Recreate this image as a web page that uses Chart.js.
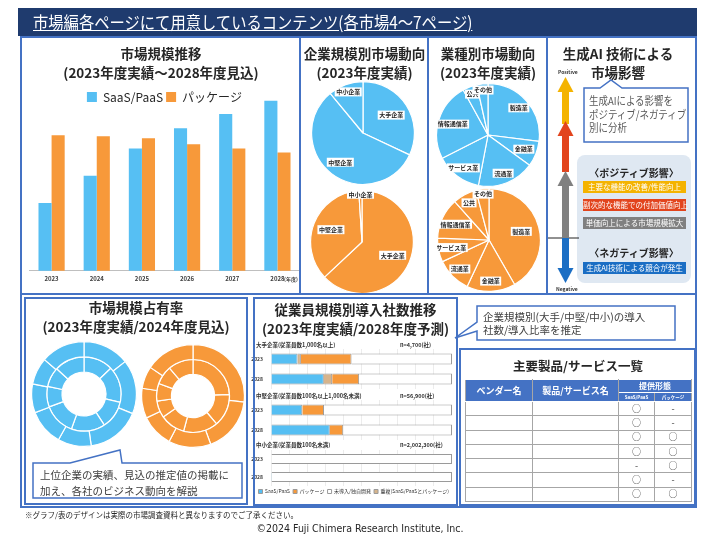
<!DOCTYPE html>
<html><head><meta charset="utf-8">
<script src="https://cdn.jsdelivr.net/npm/chart.js@4.4.0/dist/chart.umd.min.js"></script>
<style>
body{margin:0;background:#fff;}
#page{position:relative;width:720px;height:540px;overflow:hidden;font-family:"Noto Sans CJK JP","Noto Sans",sans-serif;color:#262626;}
.box{position:absolute;border:2px solid #4472c4;box-sizing:border-box;z-index:5;}
.t{position:absolute;white-space:nowrap;z-index:6;}
.title{position:absolute;font-weight:700;font-size:13.5px;text-align:center;line-height:19px;color:#262626;z-index:6;white-space:nowrap;}
canvas{position:absolute;}
svg{position:absolute;left:0;top:0;}
.tag{position:absolute;left:583px;width:103px;height:12px;line-height:12px;font-size:7.5px;color:#fff;text-align:center;white-space:nowrap;z-index:6;}
table{position:absolute;border-collapse:collapse;table-layout:fixed;z-index:6;}
td,th{border:1px solid #a6a6a6;padding:0;text-align:center;font-size:9px;color:#404040;}
th{background:#4472c4;color:#fff;font-weight:700;border-color:#fff #a6a6a6;}
</style></head>
<body><div id="page">
<div style="position:absolute;left:18px;top:8px;width:679px;height:28px;background:#1f3b6e;"></div>
<div class="t" style="left:33px;top:10px;font-size:17px;line-height:24px;color:#fff;text-decoration:underline;transform:scaleX(0.9);transform-origin:0 0;">市場編各ページにて用意しているコンテンツ(各市場4～7ページ)</div>

<div class="box" style="left:20px;top:36px;width:281px;height:259px;"></div>
<div class="box" style="left:299px;top:36px;width:130px;height:259px;"></div>
<div class="box" style="left:427px;top:36px;width:121px;height:259px;"></div>
<div class="box" style="left:546px;top:36px;width:151px;height:259px;"></div>
<div class="box" style="left:20px;top:293px;width:677px;height:215px;"></div>
<div class="box" style="left:24px;top:297px;width:224px;height:208px;"></div>
<div class="box" style="left:253px;top:297px;width:205px;height:209px;"></div>
<div class="box" style="left:459px;top:348px;width:237px;height:158px;"></div>

<div class="title" style="left:22px;top:44px;width:278px;">市場規模推移<br>(2023年度実績～2028年度見込)</div>
<div class="title" style="left:301px;top:44px;width:127px;">企業規模別市場動向<br>(2023年度実績)</div>
<div class="title" style="left:429px;top:44px;width:118px;">業種別市場動向<br>(2023年度実績)</div>
<div class="title" style="left:548px;top:44px;width:140px;">生成AI 技術による<br>市場影響</div>
<div class="title" style="left:24px;top:298px;width:224px;">市場規模占有率<br>(2023年度実績/2024年度見込)</div>
<div class="title" style="left:253px;top:300px;width:205px;">従業員規模別導入社数推移<br>(2023年度実績/2028年度予測)</div>
<div class="title" style="left:460px;top:356px;width:236px;font-size:12.5px;">主要製品/サービス一覧</div>

<canvas id="barChart" width="271" height="199" style="left:29px;top:88px;"></canvas>
<div class="t" style="left:284px;top:275px;font-size:5px;font-weight:700;color:#404040;">(年度)</div>

<canvas id="sizeSaasPie" width="104" height="104" style="left:311px;top:81px;"></canvas>
<canvas id="sizePkgPie" width="104" height="104" style="left:310px;top:190px;"></canvas>
<canvas id="indSaasPie" width="104" height="104" style="left:436px;top:83px;"></canvas>
<canvas id="indPkgPie" width="104" height="104" style="left:437px;top:188px;"></canvas>

<canvas id="shareSaas" width="106" height="106" style="left:31px;top:341px;"></canvas>
<canvas id="sharePkg" width="104" height="104" style="left:141px;top:344px;"></canvas>

<svg width="720" height="540" style="z-index:4;">
  <rect x="577" y="155" width="114" height="128" rx="8" fill="#dfe8f2"/>
  <line x1="548" y1="238" x2="579" y2="238" stroke="#222" stroke-width="1"/>
  <rect x="562" y="90" width="7" height="34" fill="#f4b300"/>
  <polygon points="557.5,92 565.5,77 573.5,92" fill="#f4b300"/>
  <rect x="562" y="134" width="7" height="38" fill="#e2441d"/>
  <polygon points="557.5,136 565.5,121 573.5,136" fill="#e2441d"/>
  <rect x="562" y="184" width="7" height="54" fill="#808080"/>
  <polygon points="557.5,186 565.5,171 573.5,186" fill="#808080"/>
  <rect x="562" y="238" width="7" height="32" fill="#1b6ec4"/>
  <polygon points="557.5,268 565.5,283 573.5,268" fill="#1b6ec4"/>
  <path d="M584,88 L600,88 L611,80 L622,88 L688,88 L688,142 L584,142 Z" fill="#fff" stroke="#4472c4" stroke-width="1.5"/>
  <path d="M33,463 L70,463 L120,450 L122,463 L242,463 L242,498 L33,498 Z" fill="#fff" stroke="#4472c4" stroke-width="1.5"/>
  <path d="M477,306 L675,306 L675,340 L477,340 L477,331 L455,338 L477,322 Z" fill="#fff" stroke="#4472c4" stroke-width="1.5"/>
</svg>
<div class="t" style="left:558px;top:68px;font-size:5px;font-weight:700;color:#333;">Positive</div>
<div class="t" style="left:556px;top:285px;font-size:5px;font-weight:700;color:#333;">Negative</div>
<div class="t" style="left:589px;top:94px;font-size:11px;line-height:13.5px;color:#595959;transform:scaleX(0.86);transform-origin:0 0;">生成AIによる影響を<br>ポジティブ/ネガティブ<br>別に分析</div>
<div class="t" style="left:577px;top:165px;width:114px;text-align:center;font-size:10px;font-weight:700;color:#262626;">〈ポジティブ影響〉</div>
<div class="tag" style="top:181px;background:#f4b300;">主要な機能の改善/性能向上</div>
<div class="tag" style="top:199px;background:#e2441d;">副次的な機能での付加価値向上</div>
<div class="tag" style="top:217px;background:#808080;">単価向上による市場規模拡大</div>
<div class="t" style="left:577px;top:245px;width:114px;text-align:center;font-size:10px;font-weight:700;color:#262626;">〈ネガティブ影響〉</div>
<div class="tag" style="top:262px;background:#1b6ec4;">生成AI技術による競合が発生</div>

<div class="t" style="left:40px;top:467px;font-size:10.5px;line-height:16px;color:#404040;">上位企業の実績、見込の推定値の掲載に<br>加え、各社のビジネス動向を解説</div>
<div class="t" style="left:483px;top:310px;font-size:10.5px;line-height:13px;color:#404040;">企業規模別(大手/中堅/中小)の導入<br>社数/導入比率を推定</div>

<div id="groupLabels"></div>
<canvas id="adoptLarge" width="216" height="40" style="left:236px;top:349px;"></canvas>
<canvas id="adoptMid" width="216" height="40" style="left:236px;top:400px;"></canvas>
<canvas id="adoptSmall" width="216" height="54" style="left:236px;top:450px;"></canvas>

<table id="productTable" style="left:465px;top:379px;width:226px;"></table>

<div class="t" style="left:25px;top:509px;font-size:7.5px;color:#262626;">※グラフ/表のデザインは実際の市場調査資料と異なりますのでご了承ください。</div>
<div class="t" style="left:0;top:522px;width:720px;text-align:center;font-family:'Liberation Sans Narrow','DejaVu Sans Condensed','Liberation Sans',sans-serif;font-stretch:condensed;font-size:10.5px;color:#262626;">©2024 Fuji Chimera Research Institute, Inc.</div>
</div>
<script>
// ---------- data ----------
const barYears = ['2023','2024','2025','2026','2027','2028'];
const saasValues = [67, 94, 121, 141, 155, 168];
const packageValues = [134, 133, 131, 125, 121, 117];

const sizeLabels = ['大手企業','中堅企業','中小企業'];
const sizeSaasShare = [32, 57, 11];
const sizePackageShare = [63, 36, 1];

const industryLabels = ['製造業','金融業','流通業','サービス業','情報通信業','公共','その他'];
const industrySaasShare = [27, 8, 18, 14.5, 24.5, 4.5, 3.5];
const industryPackageShare = [41.7, 15.3, 11.1, 7.5, 12.8, 7.5, 4.1];

const vendorSlots = ['A','B','C','D','E','F','G','H'];
const shareSaas2024 = [14.4, 16.7, 16.7, 10.3, 11.1, 8.9, 8.3, 13.6];
const shareSaas2023 = [12.8, 15.8, 12.2, 14.7, 13.9, 8.9, 8.6, 13.1];
const sharePackage2024 = [26.9, 17.5, 13.3, 10.3, 9.4, 7.0, 15.6];
const sharePackage2023 = [24.4, 14.4, 15.3, 11.1, 7.5, 7.8, 8.3, 11.1];

const adoptionYears = ['2023','2028'];
const adoptionSeries = ['SaaS/PaaS','重複(SaaS/PaaSとパッケージ)','パッケージ','未導入/独自開発'];
const legendOrder = ['SaaS/PaaS','パッケージ','未導入/独自開発','重複(SaaS/PaaSとパッケージ)'];
const groupNames = ['大手企業(従業員数1,000名以上)','中堅企業(従業員数100名以上1,000名未満)','中小企業(従業員数100名未満)'];
const groupCounts = ['n=4,700(社)','n=56,900(社)','n=2,002,300(社)'];
const largeSaas = [14.7, 29.2], largeOverlap = [1.8, 4.6], largePackage = [28.0, 14.9], largeNone = [55.5, 51.3];
const midSaas = [17.3, 32.5], midOverlap = [0, 0], midPackage = [12.0, 7.4], midNone = [70.7, 60.1];
const smallSaas = [0.3, 0.5], smallOverlap = [0, 0], smallPackage = [0, 0], smallNone = [99.7, 99.5];

const tableHeaders = ['ベンダー名','製品/サービス名','提供形態','SaaS/PaaS','パッケージ'];
const saasMarks = ['○','○','○','○','-','○','○'];
const packageMarks = ['-','-','○','○','○','-','○'];

// ---------- styles ----------
const BLUE = '#56bff3', ORANGE = '#f7993a', TAN = '#d6b48c';
Chart.defaults.font.family = '"Noto Sans CJK JP","Noto Sans",sans-serif';
Chart.defaults.animation = false;
Chart.defaults.responsive = false;
Chart.defaults.plugins.tooltip.enabled = false;

const sliceLabels = {
  id: 'sliceLabels',
  afterDatasetsDraw(chart, args, opts) {
    if (!opts.show) return;
    const ctx = chart.ctx;
    const meta = chart.getDatasetMeta(0);
    ctx.save();
    ctx.font = 'bold 6px "Noto Sans CJK JP"';
    ctx.textAlign = 'center'; ctx.textBaseline = 'middle';
    meta.data.forEach((arc, i) => {
      const p = arc.getProps(['x','y','startAngle','endAngle','outerRadius'], true);
      const mid = (p.startAngle + p.endAngle) / 2;
      const r = p.outerRadius * (opts.radii ? opts.radii[i] : 0.65);
      const x = p.x + Math.cos(mid) * r, y = p.y + Math.sin(mid) * r;
      const label = chart.data.labels[i];
      const w = ctx.measureText(label).width;
      ctx.fillStyle = '#fff';
      ctx.fillRect(x - w/2 - 1.5, y - 4.5, w + 3, 9);
      ctx.fillStyle = '#262626';
      ctx.fillText(label, x, y);
    });
    ctx.restore();
  }
};
Chart.register(sliceLabels);

// ---------- bar chart ----------
new Chart(document.getElementById('barChart'), {
  type: 'bar',
  data: { labels: barYears, datasets: [
    { label: 'SaaS/PaaS', data: saasValues, backgroundColor: BLUE, categoryPercentage: 0.58, barPercentage: 1, clip: false },
    { label: 'パッケージ', data: packageValues, backgroundColor: ORANGE, categoryPercentage: 0.58, barPercentage: 1, clip: false }
  ]},
  options: {
    layout: { padding: { bottom: 1 } },
    plugins: { legend: { position: 'top', labels: { boxWidth: 10, boxHeight: 10, padding: 3, font: { size: 12 }, color: '#262626' } } },
    scales: {
      x: { grid: { display: false, drawTicks: false }, border: { color: '#bfbfbf' }, ticks: { font: { size: 6, weight: 'bold' }, color: '#404040', padding: 4 } },
      y: { display: false, min: 0, max: 156 }
    }
  }
});

// ---------- pies ----------
function pie(id, labels, values, color, radii) {
  new Chart(document.getElementById(id), {
    type: 'pie',
    data: { labels: labels, datasets: [{ data: values, backgroundColor: color, borderColor: '#fff', borderWidth: 1.2 }] },
    options: { plugins: { legend: { display: false }, sliceLabels: { show: true, radii: radii } } }
  });
}
pie('sizeSaasPie', sizeLabels, sizeSaasShare, BLUE, [0.65, 0.72, 0.85]);
pie('sizePkgPie', sizeLabels, sizePackageShare, ORANGE, [0.65, 0.65, 0.93]);
pie('indSaasPie', industryLabels, industrySaasShare, BLUE, [0.8, 0.75, 0.8, 0.8, 0.72, 0.85, 0.88]);
pie('indPkgPie', industryLabels, industryPackageShare, ORANGE, [0.65, 0.8, 0.8, 0.75, 0.72, 0.82, 0.9]);

// ---------- doughnuts ----------
function ring(id, outer, inner, color) {
  new Chart(document.getElementById(id), {
    type: 'doughnut',
    data: { labels: vendorSlots, datasets: [
      { label: '2024年度見込', data: outer, backgroundColor: color, borderColor: '#fff', borderWidth: 1.2 },
      { label: '2023年度実績', data: inner, backgroundColor: color, borderColor: '#fff', borderWidth: 1.2 }
    ]},
    options: { cutout: '42%', plugins: { legend: { display: false } } }
  });
}
ring('shareSaas', shareSaas2024, shareSaas2023, BLUE);
ring('sharePkg', sharePackage2024, sharePackage2023, ORANGE);

// ---------- adoption stacked bars ----------
const gl = document.getElementById('groupLabels');
const groupTops = [345, 396, 445];
groupNames.forEach((n, i) => {
  gl.insertAdjacentHTML('beforeend',
    `<div class="t" style="left:256px;top:${groupTops[i]-4}px;font-size:5.5px;font-weight:700;color:#333;line-height:8px;">${n}</div>` +
    `<div class="t" style="left:400px;top:${groupTops[i]-4}px;font-size:5.5px;font-weight:700;color:#333;line-height:8px;">${groupCounts[i]}</div>`);
});
function adoption(id, saas, overlap, pkg, none, legend) {
  const colors = [BLUE, TAN, ORANGE, '#ffffff'];
  const vals = [saas, overlap, pkg, none];
  new Chart(document.getElementById(id), {
    type: 'bar',
    data: { labels: adoptionYears, datasets: adoptionSeries.map((s, k) => ({
      label: s, data: vals[k], backgroundColor: colors[k], borderColor: '#9a9a9a', borderWidth: 1,
      barPercentage: 0.55, categoryPercentage: 1 })) },
    options: {
      indexAxis: 'y',
      layout: { autoPadding: false, padding: 0 },
      plugins: { legend: { display: legend, position: 'bottom', align: 'end',
        labels: { boxWidth: 4, boxHeight: 4, padding: 3, font: { size: 5 }, color: '#333',
          sort: (a, b) => legendOrder.indexOf(a.text) - legendOrder.indexOf(b.text) } } },
      scales: {
        x: { stacked: true, min: 0, max: 100, ticks: { display: false, stepSize: 10 },
          grid: { color: '#ececec', drawTicks: false }, border: { display: false },
          afterFit: s => { s.height = 0; s.paddingLeft = 0; s.paddingRight = 0; } },
        y: { stacked: true, grid: { display: false, drawTicks: false }, border: { display: false },
          ticks: { font: { size: 5, weight: 'bold' }, color: '#333', padding: 8 },
          afterFit: s => { s.width = 35; s.paddingTop = 0; s.paddingBottom = 0; } }
      }
    }
  });
}
adoption('adoptLarge', largeSaas, largeOverlap, largePackage, largeNone, false);
adoption('adoptMid', midSaas, midOverlap, midPackage, midNone, false);
adoption('adoptSmall', smallSaas, smallOverlap, smallPackage, smallNone, true);

// ---------- table ----------
const tb = document.getElementById('productTable');
let html = '<colgroup><col style="width:67px"><col style="width:86px"><col style="width:36px"><col style="width:37px"></colgroup>';
html += `<tr style="height:13px"><th rowspan="2" style="font-size:9px">${tableHeaders[0]}</th><th rowspan="2" style="font-size:9px">${tableHeaders[1]}</th><th colspan="2" style="font-size:8px;line-height:12px">${tableHeaders[2]}</th></tr>`;
html += `<tr style="height:9px"><th style="font-size:4.5px;line-height:8px">${tableHeaders[3]}</th><th style="font-size:4.5px;line-height:8px">${tableHeaders[4]}</th></tr>`;
saasMarks.forEach((m, i) => {
  html += `<tr style="height:14.3px"><td></td><td></td><td style="font-size:9px;line-height:12px">${m}</td><td style="font-size:9px;line-height:12px">${packageMarks[i]}</td></tr>`;
});
tb.innerHTML = html;
</script>
</body></html>
